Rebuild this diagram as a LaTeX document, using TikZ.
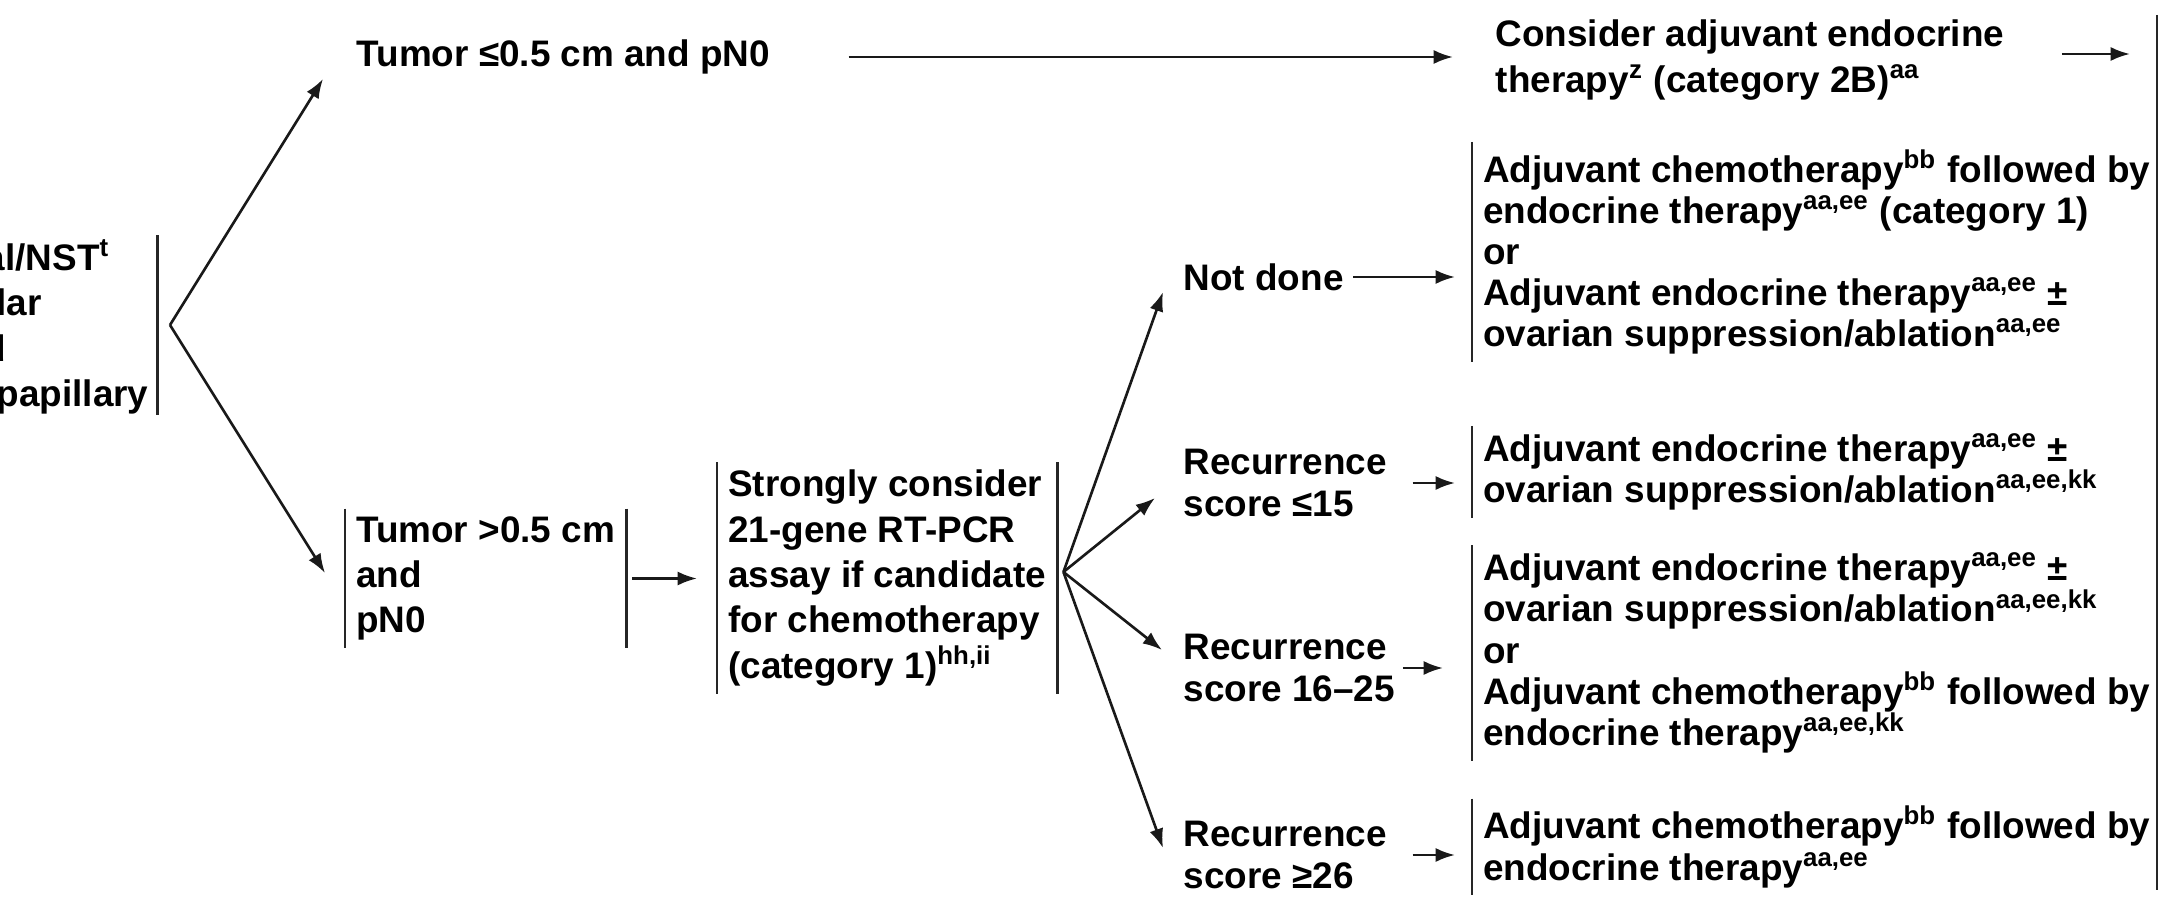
\documentclass[tikz,border=0pt]{standalone}
\usepackage{fontspec}
\setmainfont{Liberation Sans}
\usepackage{tikz}
\usetikzlibrary{arrows.meta,calc,positioning}
\tikzset{
    txt/.style={font=\bfseries\fontsize{10.5}{12.9}\selectfont,align=left,inner sep=0pt,anchor=west},
    lbl/.style={txt,font=\bfseries\fontsize{10.5}{12}\selectfont},
    boxtxt/.style={txt,inner xsep=3pt,inner ysep=2pt},
    res/.style={txt,font=\bfseries\fontsize{10.5}{11.7}\selectfont,inner xsep=3pt,inner ysep=2pt},
    bar/.style={draw=black!85,line width=0.75pt},
    arr/.style={draw=black!90,line width=0.75pt,-{Latex[length=5.5pt,width=4pt]}}
}

\begin{document}
\begin{tikzpicture}
  \useasboundingbox (0,0) rectangle (21.63,-9.04);

  %---------------- histology ----------------
            \node[txt] (histo) at (-0.04,-3.27) {\hspace*{-0.12cm}al/NST\textsuperscript{t}\\lar\\\hspace*{-0.13cm}d\\papillary};
            \draw[bar] ([xshift=0.08cm,yshift=0.04cm]histo.north east) -- ([xshift=0.08cm]histo.south east);

            \coordinate (fan1) at (1.70,-3.25);
            \coordinate (up1) at (3.23,-0.79);
            \coordinate (dn1) at (3.25,-5.73);
            \draw[arr] (fan1) -- (up1);
            \draw[arr] (fan1) -- (dn1);

  %---------------- tumor <= 0.5 cm ----------------
            \node[txt] (tsmall) at (3.56,-0.57) {Tumor ≤0.5 cm and pN0};
            \node[txt] (consider) at (14.95,-0.60) {Consider adjuvant endocrine\\therapy\textsuperscript{z} (category 2B)\textsuperscript{aa}};
            \draw[arr,shorten <=0.78cm,shorten >=0.42cm] (tsmall.east) -- (tsmall.east -| consider.west);

  % right edge
            \coordinate (rtop) at (21.57,-0.15);
            \coordinate (rbot) at (21.57,-8.90);
            \draw[bar] (rtop) -- (rbot);
            \draw[arr,shorten <=0.57cm,shorten >=0.27cm] ([yshift=0.06cm]consider.east) -- ([yshift=0.06cm]consider.east -| rtop);

  %---------------- tumor > 0.5 cm ----------------
            \node[boxtxt] (tbig) at (3.45,-5.785) {Tumor >0.5 cm\\and\\pN0};
            \node[boxtxt] (assay) at (7.17,-5.78) {Strongly consider\\21-gene RT-PCR\\assay if candidate\\for chemotherapy\\(category 1)\textsuperscript{hh,ii}};
            \foreach \n in {tbig,assay}{
                \draw[bar] (\n.north west) -- (\n.south west);
                \draw[bar] (\n.north east) -- (\n.south east);
            }
            \draw[arr,shorten <=0.06cm,shorten >=0.2cm] (tbig.east) -- (tbig.east -| assay.west);

  %---------------- recurrence score ----------------
            \coordinate (fan2) at ([xshift=0.06cm,yshift=0.06cm]assay.east);
            \coordinate (tnd) at (11.63,-2.92);
            \coordinate (t15) at (11.55,-4.98);
            \coordinate (t1625) at (11.62,-6.50);
            \coordinate (t26) at (11.63,-8.48);
            \foreach \t in {tnd,t15,t1625,t26}{
                \draw[arr] (fan2) -- (\t);
            }

            \node[txt] (notdone) at (11.83,-2.77) {Not done};
            \node[lbl] (rs15) at (11.83,-4.83) {Recurrence\\score ≤15};
            \node[lbl] (rs1625) at (11.83,-6.68) {Recurrence\\score 16--25};
            \node[lbl] (rs26) at (11.83,-8.55) {Recurrence\\score ≥26};

  %---------------- treatment ----------------
            \node[res] (resnd) at (14.72,-2.52) {Adjuvant chemotherapy\textsuperscript{bb} followed by\\endocrine therapy\textsuperscript{aa,ee} (category 1)\\or\\Adjuvant endocrine therapy\textsuperscript{aa,ee} ±\\ovarian suppression/ablation\textsuperscript{aa,ee}};
            \node[res] (res15) at (14.72,-4.72) {Adjuvant endocrine therapy\textsuperscript{aa,ee} ±\\ovarian suppression/ablation\textsuperscript{aa,ee,kk}};
            \node[res] (res1625) at (14.72,-6.53) {Adjuvant endocrine therapy\textsuperscript{aa,ee} ±\\ovarian suppression/ablation\textsuperscript{aa,ee,kk}\\or\\Adjuvant chemotherapy\textsuperscript{bb} followed by\\endocrine therapy\textsuperscript{aa,ee,kk}};
            \node[res] (res26) at (14.72,-8.47) {Adjuvant chemotherapy\textsuperscript{bb} followed by\\endocrine therapy\textsuperscript{aa,ee}};
            \foreach \n in {resnd,res15,res1625,res26}{
                \draw[bar] (\n.north west) -- (\n.south west);
            }

            \draw[arr,shorten <=0.09cm,shorten >=0.17cm] (notdone.east) -- (notdone.east -| resnd.west);
            \draw[arr,shorten <=0.25cm,shorten >=0.17cm] (rs15.east) -- (rs15.east -| res15.west);
            \draw[arr,shorten <=0.07cm,shorten >=0.29cm] (rs1625.east) -- (rs1625.east -| res1625.west);
            \draw[arr,shorten <=0.25cm,shorten >=0.17cm] (rs26.east) -- (rs26.east -| res26.west);

\end{tikzpicture}
\end{document}
